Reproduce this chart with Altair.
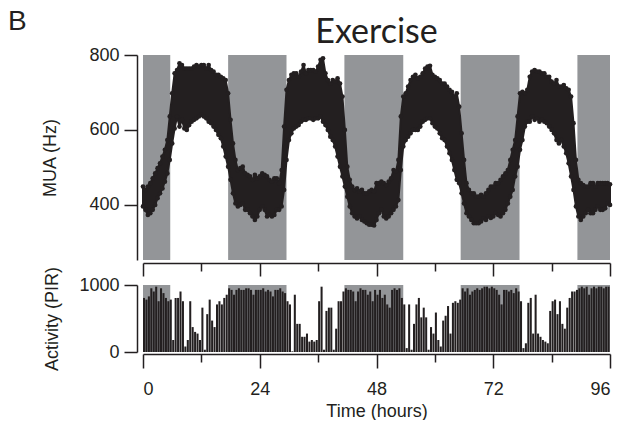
import altair as alt
import pandas as pd

BLACK = "#231f20"
GRAY = "#939598"
FONT = "Arial, Liberation Sans, Helvetica, sans-serif"

# dark (shaded) periods, hours
dark_start = [0, 17.5, 41.4, 65.3, 89.3]
dark_end = [5.6, 29.5, 53.5, 77.4, 96]

# MUA envelope read every 0.5 h (upper / lower edge of the dot cloud), Hz
mua_t = [i * 0.5 for i in range(193)]
mua_hi = [449, 440, 449, 458, 471, 484, 498, 511, 529, 547, 573, 636, 698, 751, 760, 778,
          773, 764, 764, 764, 764, 769, 773, 769, 773, 773, 764, 773, 760, 756, 747, 747,
          742, 738, 733, 698, 627, 564, 520, 493, 498, 502, 484, 480, 476, 467, 480, 471,
          476, 484, 480, 476, 467, 462, 471, 471, 458, 493, 609, 707, 733, 747, 751, 751,
          742, 756, 773, 751, 760, 760, 760, 756, 769, 787, 791, 751, 733, 724, 733, 729,
          738, 724, 689, 600, 502, 467, 449, 440, 444, 436, 440, 431, 431, 436, 440, 436,
          458, 458, 462, 458, 453, 462, 471, 493, 489, 520, 636, 689, 698, 716, 733, 742,
          747, 738, 742, 751, 764, 769, 771, 747, 742, 738, 733, 724, 724, 716, 707, 702,
          689, 698, 662, 591, 520, 458, 440, 431, 431, 422, 422, 427, 422, 431, 440, 449,
          449, 458, 458, 467, 476, 484, 493, 520, 547, 573, 636, 698, 702, 698, 707, 742,
          756, 760, 756, 756, 751, 751, 742, 742, 729, 724, 733, 716, 716, 720, 711, 707,
          689, 618, 520, 467, 458, 453, 449, 449, 458, 458, 449, 458, 458, 458, 458, 458,
          455]
mua_lo = [396, 387, 373, 378, 387, 400, 418, 431, 444, 462, 484, 520, 564, 604, 636, 609,
          627, 604, 600, 613, 622, 627, 631, 636, 640, 636, 631, 622, 618, 609, 600, 587,
          578, 556, 529, 502, 467, 431, 404, 396, 400, 404, 387, 387, 378, 369, 360, 369,
          387, 396, 387, 369, 373, 369, 373, 387, 387, 396, 440, 520, 573, 591, 604, 609,
          613, 622, 627, 627, 631, 631, 627, 631, 631, 636, 622, 613, 600, 582, 573, 556,
          529, 502, 476, 449, 422, 396, 378, 369, 364, 369, 360, 356, 351, 347, 347, 345,
          360, 378, 387, 369, 364, 369, 378, 387, 396, 413, 493, 556, 573, 582, 591, 600,
          600, 600, 609, 622, 627, 631, 631, 618, 609, 604, 591, 578, 573, 556, 538, 520,
          493, 467, 458, 431, 404, 378, 369, 360, 351, 351, 351, 356, 364, 360, 369, 365,
          369, 378, 373, 369, 378, 387, 404, 422, 440, 476, 502, 547, 573, 609, 622, 622,
          636, 627, 631, 622, 627, 622, 618, 609, 600, 591, 573, 564, 573, 556, 538, 511,
          476, 440, 396, 369, 360, 369, 378, 387, 378, 378, 387, 396, 387, 387, 391, 404,
          400]

# PIR activity, peak value in each 0.5 h bin
act_t = [i * 0.5 for i in range(192)]
act_v = [807, 782, 830, 951, 903, 975, 758, 951, 879, 807, 758, 782, 179, 807, 807, 903,
         758, 82, 179, 758, 372, 300, 275, 179, 662, 34, 565, 782, 469, 372, 710, 758,
         710, 807, 855, 951, 927, 855, 927, 951, 927, 927, 951, 951, 927, 855, 927, 927,
         927, 951, 903, 927, 903, 830, 927, 927, 951, 903, 879, 758, 710, 10, 855, 420,
         420, 227, 227, 275, 155, 179, 155, 179, 758, 975, 34, 613, 662, 662, 34, 348,
         758, 758, 903, 951, 927, 927, 903, 758, 903, 951, 927, 927, 855, 903, 758, 927,
         855, 927, 807, 855, 710, 662, 927, 951, 927, 951, 807, 710, 58, 710, 34, 420,
         710, 807, 517, 662, 517, 34, 372, 275, 589, 179, 82, 469, 541, 686, 275, 734,
         758, 734, 782, 951, 903, 951, 855, 903, 927, 951, 927, 951, 975, 975, 951, 975,
         951, 927, 855, 710, 927, 927, 903, 927, 879, 951, 903, 758, 58, 130, 734, 807,
         275, 855, 275, 227, 179, 155, 130, 613, 758, 782, 565, 758, 420, 348, 662, 807,
         903, 903, 927, 951, 975, 951, 975, 855, 951, 975, 951, 975, 975, 951, 975, 975]

x_ticks = [0, 12, 24, 36, 48, 60, 72, 84, 96]
panel_label = "B"
title_text = "Exercise"

bands_df = pd.DataFrame({"start": dark_start, "end": dark_end})
mua_df = pd.DataFrame({"t": mua_t, "hi": mua_hi, "lo": mua_lo})
act_df = pd.DataFrame({"t": act_t, "v": act_v})

x_scale = alt.Scale(domain=[0, 96], nice=False, zero=False)

common_axis = dict(domainColor=BLACK, tickColor=BLACK, domainWidth=1.5, tickWidth=1.5,
                   labelColor=BLACK, titleColor=BLACK, labelFont=FONT, titleFont=FONT,
                   labelFontSize=18, titleFontSize=18, titleFontWeight="normal", grid=False)

top_x_axis = alt.Axis(values=x_ticks, labels=False, title=None, offset=3,
                      tickSize={"condition": {"test": "datum.value % 24 === 0", "value": 13}, "value": 8},
                      **common_axis)
bot_x_axis = alt.Axis(values=x_ticks, title="Time (hours)", offset=2,
                      labelExpr="datum.value % 24 === 0 ? datum.label : ''",
                      tickSize={"condition": {"test": "datum.value % 24 === 0", "value": 14}, "value": 8},
                      labelPadding=12, titlePadding=4, **common_axis)

top_y = alt.Y("lo:Q", scale=alt.Scale(domain=[253, 800], nice=False, zero=False),
              axis=alt.Axis(values=[400, 600, 800], title="MUA (Hz)", tickSize=13, offset=6,
                            labelPadding=5, titlePadding=29, format="d", **common_axis))

bands_top = alt.Chart(bands_df).mark_rect(color=GRAY).encode(
    x=alt.X("start:Q", scale=x_scale, axis=top_x_axis), x2="end:Q")

mua_area = alt.Chart(mua_df).mark_area(color=BLACK, stroke=BLACK, strokeWidth=2,
                                       strokeJoin="round").encode(
    x=alt.X("t:Q", scale=x_scale), y=top_y, y2="hi:Q")

mua_pts = alt.Chart(mua_df).transform_fold(["lo", "hi"], as_=["edge", "val"]).mark_circle(
    size=22, opacity=1, color=BLACK).encode(
    x=alt.X("t:Q", scale=x_scale), y=alt.Y("val:Q"))

label_b = alt.Chart(pd.DataFrame({"txt": [panel_label]})).mark_text(
    font=FONT, fontSize=28, align="left", baseline="alphabetic", color=BLACK).encode(
    text="txt:N", x=alt.value(-135), y=alt.value(-25))

label_title = alt.Chart(pd.DataFrame({"txt": [title_text]})).mark_text(
    font="Lato", fontSize=34, align="center", baseline="alphabetic", color=BLACK).encode(
    text="txt:N", x=alt.value(233.5), y=alt.value(-12))

top = alt.layer(bands_top, mua_area, mua_pts, label_b, label_title).properties(
    width=467, height=205)

bands_bot = alt.Chart(bands_df).mark_rect(color=GRAY).encode(
    x=alt.X("start:Q", scale=x_scale, axis=bot_x_axis), x2="end:Q")

act_bars = alt.Chart(act_df).transform_calculate(t2="datum.t + 0.42", z="0").mark_rect(
    color=BLACK).encode(
    x=alt.X("t:Q", scale=x_scale), x2="t2:Q",
    y=alt.Y("v:Q", scale=alt.Scale(domain=[0, 1000], nice=False),
            axis=alt.Axis(values=[0, 1000], title="Activity (PIR)", tickSize=13, offset=6,
                          labelPadding=5, titlePadding=17, format="d", **common_axis)),
    y2="z:Q")

bottom = alt.layer(bands_bot, act_bars).properties(width=467, height=67)

chart = alt.vconcat(top, bottom, spacing=25, bounds="flush").properties(
    padding=0, background="white").configure_view(stroke=None)

chart.save("out.html", embed_options={"renderer": "svg", "actions": False})
